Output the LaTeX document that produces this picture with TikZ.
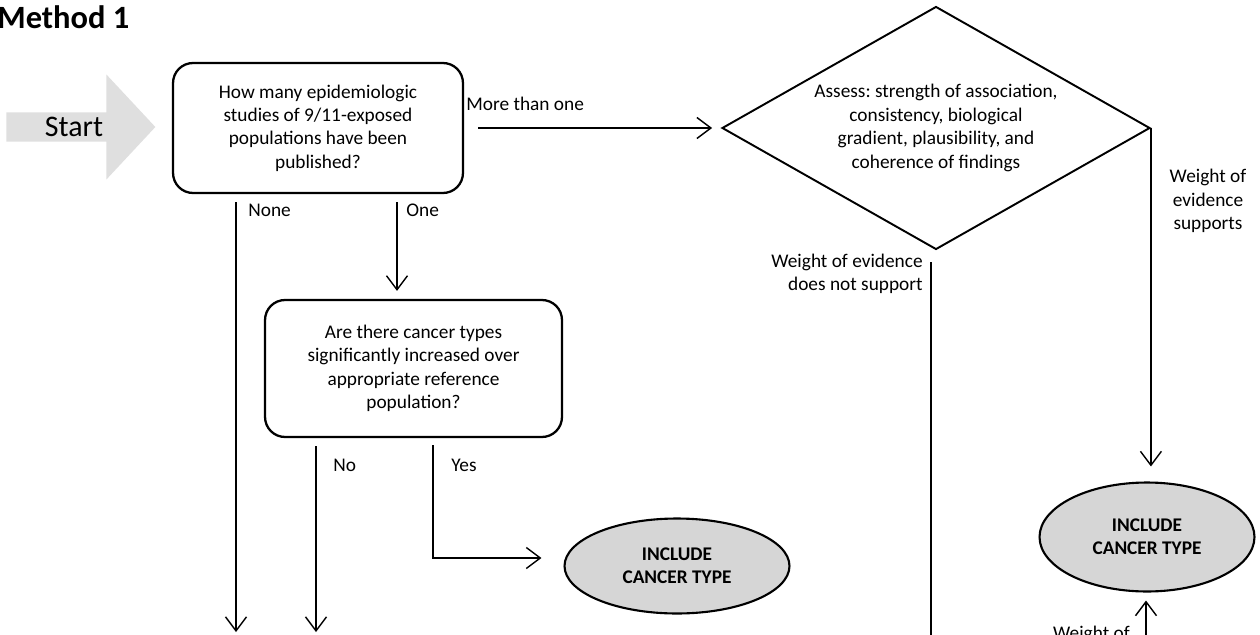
\documentclass[tikz,border=0pt]{standalone}
\usepackage{fontspec}
\setmainfont{Carlito}
\usetikzlibrary{arrows.meta,shapes.geometric,shapes.arrows,positioning}
\frenchspacing

\begin{document}
\begin{tikzpicture}[x=0.02cm, y=-0.02cm, font=\fontsize{11}{13.3}\selectfont,
                    question/.style = {draw, line width=1.3pt, rounded corners=0.4cm, align=center, inner sep=0},
                    assess/.style = {draw, diamond, line width=1.1pt, aspect=1.76, align=center, inner sep=0},
                    include/.style = {draw, ellipse, line width=1.2pt, fill=gray!32, align=center, inner sep=0,
                                      font=\fontsize{11}{13.3}\selectfont\bfseries},
                    lbl/.style = {inner sep=0, align=center},
                    arr/.style = {line width=0.8pt, -{Straight Barb[length=0.28cm,width=0.42cm]}}]
\useasboundingbox (0,0) rectangle (1260,635);
\clip (0,0) rectangle (1260,635);
\node[lbl, anchor=base west, font=\fontsize{18.5}{21}\selectfont\bfseries] (title) at (-3,29) {Method 1};
\node[single arrow, fill=gray!25, minimum height=2.98cm, minimum width=2.1cm, single arrow head extend=0.52cm,
      single arrow tip angle=94, inner sep=0, font=\fontsize{17}{20}\selectfont] (start) at (74,127) {Start};
\node[question, minimum width=5.8cm, minimum height=2.6cm] (q1) at (318,128)
  {How many epidemiologic\\studies of 9/11-exposed\\populations have been\\published?};
\node[question, minimum width=5.94cm, minimum height=2.74cm] (q2) at (413.5,368.5)
  {Are there cancer types\\significantly increased over\\appropriate reference\\population?};
\node[assess, minimum width=8.56cm, minimum height=4.86cm] (assess) at (936,128)
  {Assess: strength of association,\\consistency, biological\\gradient, plausibility, and\\coherence of findings};
\node[include, minimum width=4.5cm, minimum height=1.9cm] (inc1) at (677,566) {INCLUDE\\CANCER TYPE};
\node[include, minimum width=4.3cm, minimum height=2.18cm] (inc2) at (1147,537) {INCLUDE\\CANCER TYPE};
\node[lbl, anchor=west] (lmore) at (466,104) {More than one};
\node[lbl, anchor=west] (lnone) at (248,210) {None};
\node[lbl, anchor=west] (lone) at (406,210) {One};
\node[lbl, anchor=west] (lno) at (333,465) {No};
\node[lbl, anchor=west] (lyes) at (451,465) {Yes};
\node[lbl, anchor=east, align=right] (lnot) at (923,274) {Weight of evidence\\does not support};
\node[lbl] (lsup) at (1208,201) {Weight of\\evidence\\supports};
\node[lbl, anchor=north east] (lup) at (1130,626) {Weight of};
\coordinate (noneend) at (236,632);
\coordinate (onex) at (397,0);
\coordinate (noend) at (316,632);
\coordinate (yesx) at (433,0);
\coordinate (notend) at (931,660);
\coordinate (upstart) at (1146,660);
\draw[arr, shorten <=0.28cm, shorten >=0.18cm] (q1.east) -- (assess.west);
\draw[arr, shorten <=0.16cm] (q1.south -| noneend) -- (noneend);
\draw[arr, shorten <=0.16cm, shorten >=0.16cm] (q1.south -| onex) -- (q2.north -| onex);
\draw[arr, shorten <=0.16cm] (q2.south -| noend) -- (noend);
\draw[arr, shorten <=0.14cm, shorten >=0.44cm] (q2.south -| yesx) |- ([yshift=0.16cm]inc1.west);
\draw[arr, shorten >=0.3cm] (assess.east) -- (assess.east |- inc2.north);
\draw[line width=0.8pt, shorten <=0.24cm] (assess.south -| notend) -- (notend);
\draw[arr, shorten >=0.16cm] (upstart) -- (upstart |- inc2.south);
\end{tikzpicture}
\end{document}
